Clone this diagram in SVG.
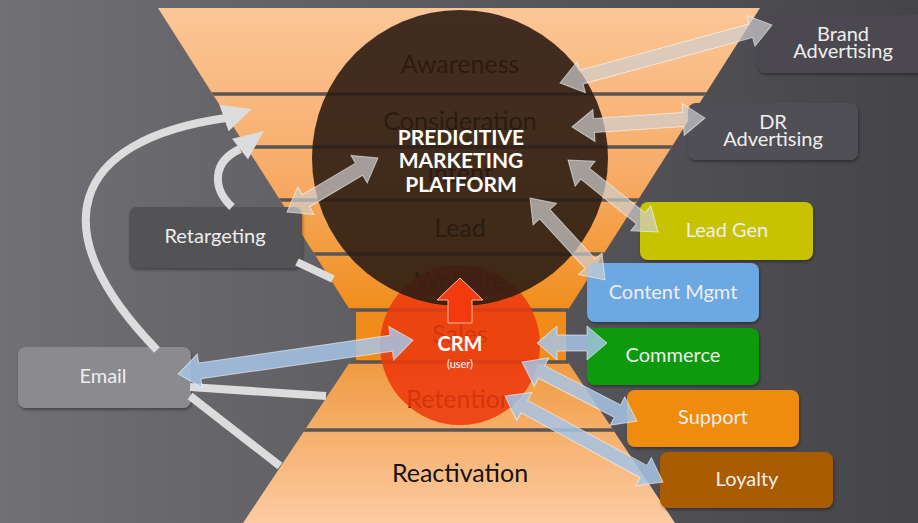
<svg xmlns="http://www.w3.org/2000/svg" width="918" height="523" viewBox="0 0 918 523">
<defs>
<linearGradient id="bg" x1="0" y1="0" x2="1" y2="0">
<stop offset="0" stop-color="#707075"/>
<stop offset="0.5" stop-color="#5a595e"/>
<stop offset="1" stop-color="#454449"/>
</linearGradient>
<linearGradient id="topF" x1="0" y1="8" x2="0" y2="310" gradientUnits="userSpaceOnUse">
<stop offset="0" stop-color="#fbc697"/>
<stop offset="0.55" stop-color="#f7ac68"/>
<stop offset="1" stop-color="#f08e1c"/>
</linearGradient>
<linearGradient id="botF" x1="0" y1="362" x2="0" y2="523" gradientUnits="userSpaceOnUse">
<stop offset="0" stop-color="#f09a40"/>
<stop offset="1" stop-color="#fdcba3"/>
</linearGradient>
<clipPath id="fclip">
<polygon points="158,8 760,8 568,310 566,310 566,362 568,362 675,523 243,523 350,362 356,362 356,310 350,310"/>
</clipPath>
<filter id="sh" x="-10%" y="-10%" width="120%" height="130%">
<feDropShadow dx="1" dy="2" stdDeviation="1.5" flood-color="#000" flood-opacity="0.35"/>
</filter>
</defs>
<style>
.box{stroke:none;filter:url(#sh)}
.bt{font-family:Lato,"Open Sans","Liberation Sans",sans-serif;font-size:20px;fill:#eeeeee;text-anchor:middle}
.band{font-family:Lato,"Open Sans","Liberation Sans",sans-serif;font-size:25px;fill:#161210;text-anchor:middle}
.sep{stroke:#5a5552;stroke-width:3.5}
.ga{fill:#cfcfcf;fill-opacity:0.7;stroke:#ffffff;stroke-opacity:0.55;stroke-width:1}
.ba{fill:#a6c4e6;fill-opacity:0.85;stroke:#ffffff;stroke-opacity:0.55;stroke-width:1}
.wl{fill:none;stroke:#dcdcdc;stroke-width:8}
.wh{fill:#dcdcdc}
.ct{font-family:Lato,"Open Sans","Liberation Sans",sans-serif;font-weight:bold;fill:#ffffff;text-anchor:middle}
</style>
<rect x="0" y="0" width="918" height="523" fill="url(#bg)"/>
<g id="funnel">
<polygon points="158,8 760,8 568,310 350,310" fill="url(#topF)"/>
<rect x="356" y="310" width="210" height="52" fill="#ef8c1a"/>
<polygon points="350,362 568,362 675,523 243,523" fill="url(#botF)"/>
<g clip-path="url(#fclip)">
<line class="sep" x1="0" y1="94" x2="918" y2="94"/>
<line class="sep" x1="0" y1="147" x2="918" y2="147"/>
<line class="sep" x1="0" y1="200" x2="918" y2="200"/>
<line class="sep" x1="0" y1="254" x2="918" y2="254"/>
<line class="sep" x1="0" y1="310" x2="918" y2="310"/>
<line class="sep" x1="0" y1="362" x2="918" y2="362"/>
<line class="sep" x1="0" y1="430" x2="918" y2="430"/>
</g>
<text class="band" x="460" y="73">Awareness</text>
<text class="band" x="460" y="130">Consideration</text>
<text class="band" x="460" y="182">Intent</text>
<text class="band" x="460" y="237">Lead</text>
<text class="band" x="460" y="290">Website</text>
<text class="band" x="460" y="343">Sales</text>
<text class="band" x="460" y="408">Retention</text>
<text class="band" x="460" y="482">Reactivation</text>
</g>
<g id="crm">
<circle cx="460" cy="345" r="80" fill="#ec3a0e" fill-opacity="0.88"/>
</g>
<g id="platform">
<circle cx="460" cy="158" r="148" fill="#2c1d13" fill-opacity="0.9"/>
<text class="ct" font-size="21" x="461" y="145">PREDICITIVE</text>
<text class="ct" font-size="21" x="461" y="168">MARKETING</text>
<text class="ct" font-size="21" x="461" y="192">PLATFORM</text>
</g>
<g id="crm-label">
<polygon points="460,278 483,300 472,300 472,323 448,323 448,300 437,300" fill="#f23a0c" stroke="#ffb9a6" stroke-width="1"/>
<text class="ct" font-size="20" x="460" y="351">CRM</text>
<text x="460" y="368" font-family="Lato,'Open Sans','Liberation Sans',sans-serif" font-size="11" fill="#ffffff" text-anchor="middle">(user)</text>
</g>
<g id="n-brand"><rect class="box" x="757" y="15" width="175" height="58" rx="8" fill="#4b4a4f"/><text class="bt" x="843" y="41">Brand</text><text class="bt" x="843" y="58">Advertising</text></g>
<g id="n-dr"><rect class="box" x="688" y="103" width="170" height="57" rx="8" fill="#505055"/><text class="bt" x="773" y="129">DR</text><text class="bt" x="773" y="146">Advertising</text></g>
<g id="n-retargeting"><rect class="box" x="129" y="207" width="173" height="61" rx="8" fill="#535257"/><text class="bt" x="215" y="243">Retargeting</text></g>
<g id="n-email"><rect class="box" x="18" y="347" width="173" height="61" rx="8" fill="#8b8a8e"/><text class="bt" x="103" y="383">Email</text></g>
<g id="n-leadgen"><rect class="box" x="640" y="202" width="173" height="58" rx="8" fill="#c8c300"/><text class="bt" x="727" y="237">Lead Gen</text></g>
<g id="n-content"><rect class="box" x="587" y="263" width="172" height="59" rx="8" fill="#6ca8e2"/><text class="bt" x="673" y="299">Content Mgmt</text></g>
<g id="n-commerce"><rect class="box" x="587" y="328" width="172" height="57" rx="8" fill="#0c9a0c"/><text class="bt" x="673" y="362">Commerce</text></g>
<g id="n-support"><rect class="box" x="627" y="390" width="172" height="57" rx="8" fill="#ef8b0c"/><text class="bt" x="713" y="424">Support</text></g>
<g id="n-loyalty"><rect class="box" x="660" y="452" width="173" height="56" rx="8" fill="#a95b06"/><text class="bt" x="747" y="486">Loyalty</text></g>
<g id="connectors">
<path class="wl" d="M157,350 C40,230 70,140 226,118"/>
<polygon class="wh" points="252,109 228.6,131.2 219.4,104.8"/>
<path class="wl" d="M232,207 C212,188 212,162 240,149"/>
<polygon class="wh" points="264,131 248,159.2 232,138.8"/>
<line class="wl" x1="297" y1="262" x2="333" y2="279"/>
<line class="wl" x1="190" y1="387" x2="326" y2="396"/>
<line class="wl" x1="190" y1="396" x2="280" y2="466"/>
<polygon class="ga" transform="translate(560,83) rotate(-15.3)" points="0,0 22,-16 22,-7 197.8,-7 197.8,-16 219.8,0 197.8,16 197.8,7 22,7 22,16"/>
<polygon class="ga" transform="translate(572,127) rotate(-3.9)" points="0,0 22,-16 22,-7 111.3,-7 111.3,-16 133.3,0 111.3,16 111.3,7 22,7 22,16"/>
<polygon class="ga" transform="translate(287,212) rotate(-30.7)" points="0,0 22,-16 22,-7 83.8,-7 83.8,-16 105.8,0 83.8,16 83.8,7 22,7 22,16"/>
<polygon class="ga" transform="translate(568,160) rotate(38.7)" points="0,0 22,-16 22,-7 93.3,-7 93.3,-16 115.3,0 93.3,16 93.3,7 22,7 22,16"/>
<polygon class="ga" transform="translate(530,198) rotate(47.5)" points="0,0 22,-16 22,-7 89.1,-7 89.1,-16 111.1,0 89.1,16 89.1,7 22,7 22,16"/>
<polygon class="ba" transform="translate(178,374) rotate(-8.2)" points="0,0 22,-17 22,-8 215.4,-8 215.4,-17 237.4,0 215.4,17 215.4,8 22,8 22,17"/>
<polygon class="ba" transform="translate(537,343)" points="0,0 20,-17 20,-8 50,-8 50,-17 70,0 50,17 50,8 20,8 20,17"/>
<polygon class="ba" transform="translate(522,362) rotate(27.2)" points="0,0 22,-16 22,-7 107.3,-7 107.3,-16 129.3,0 107.3,16 107.3,7 22,7 22,16"/>
<polygon class="ba" transform="translate(505,396) rotate(28.6)" points="0,0 22,-16 22,-7 157.9,-7 157.9,-16 179.9,0 157.9,16 157.9,7 22,7 22,16"/>
</g>
</svg>
